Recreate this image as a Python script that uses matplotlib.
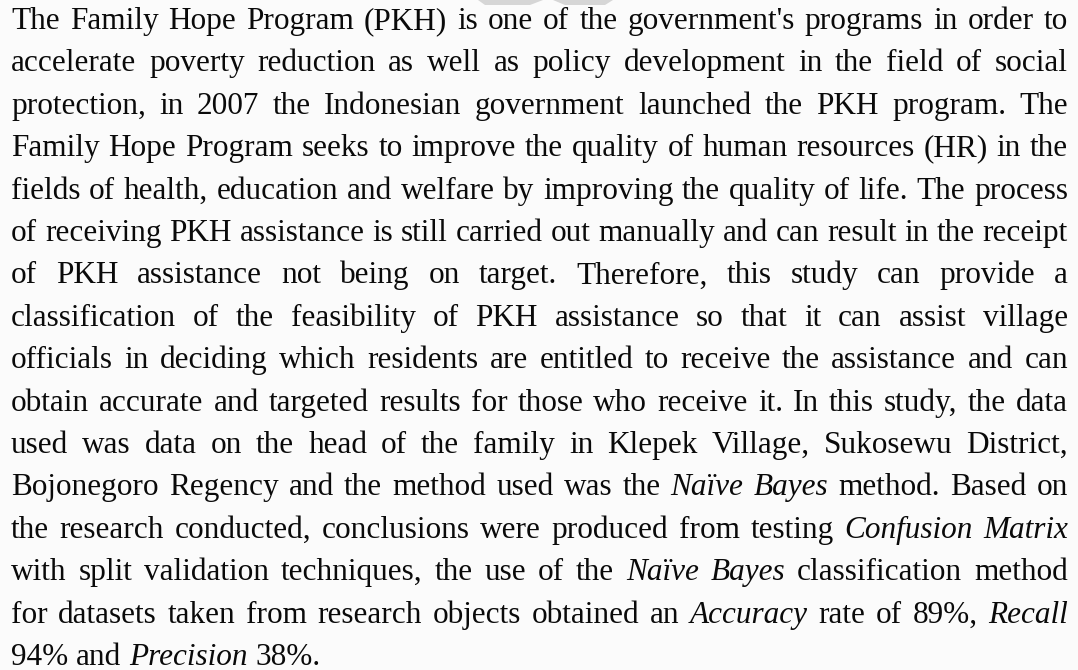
import matplotlib
matplotlib.use("Agg")
import matplotlib.pyplot as plt
from matplotlib.patches import Polygon

# Paragraph lines; words wrapped in *...* are italic
LINES = [
    "The Family Hope Program (PKH) is one of the government's programs in order to",
    "accelerate poverty reduction as well as policy development in the field of social",
    "protection, in 2007 the Indonesian government launched the PKH program. The",
    "Family Hope Program seeks to improve the quality of human resources (HR) in the",
    "fields of health, education and welfare by improving the quality of life. The process",
    "of receiving PKH assistance is still carried out manually and can result in the receipt",
    "of PKH assistance not being on target. Therefore, this study can provide a",
    "classification of the feasibility of PKH assistance so that it can assist village",
    "officials in deciding which residents are entitled to receive the assistance and can",
    "obtain accurate and targeted results for those who receive it. In this study, the data",
    "used was data on the head of the family in Klepek Village, Sukosewu District,",
    "Bojonegoro Regency and the method used was the *Naïve* *Bayes* method. Based on",
    "the research conducted, conclusions were produced from testing *Confusion* *Matrix*",
    "with split validation techniques, the use of the *Naïve* *Bayes* classification method",
    "for datasets taken from research objects obtained an *Accuracy* rate of 89%, *Recall*",
    "94% and *Precision* 38%.",
]


def parse(line):
    toks = []
    for w in line.split(" "):
        if w.startswith("*") and w.endswith("*") and len(w) > 2:
            toks.append((w[1:-1], True))
        else:
            toks.append((w, False))
    return toks


W, H = 1078, 670
fig = plt.figure(figsize=(W / 100, H / 100), dpi=100)
fig.patch.set_facecolor("#fbfbfb")
ax = fig.add_axes([0, 0, 1, 1])
ax.set_xlim(0, W)
ax.set_ylim(H, 0)
ax.axis("off")
ax.set_facecolor("#fbfbfb")

# faint watermark fragments at the top edge
ax.add_patch(Polygon([(478, 0), (543, 0), (530, 5), (485, 5)], closed=True,
                     facecolor="#d6d6d6", edgecolor="none"))
ax.add_patch(Polygon([(553, 0), (613, 0), (605, 5), (565, 5)], closed=True,
                     facecolor="#d6d6d6", edgecolor="none"))

renderer = fig.canvas.get_renderer()
FAMILY = "Liberation Serif"
COLOR = "#0a0a0a"
LEFT, RIGHT = 11, 1068
BASE0, STEP = 29, 42.4


def measure(s, italic, fs):
    t = ax.text(0, 0, s, fontsize=fs, family=FAMILY,
                style="italic" if italic else "normal")
    w = t.get_window_extent(renderer=renderer).width
    t.remove()
    return w

# fit the font so the tightest line fills the column with ordinary spaces
REF_FS = 20.0
ref_space = measure("a a", False, REF_FS) - 2 * measure("a", False, REF_FS)
natural = []
for line in LINES[:-1]:
    toks = parse(line)
    natural.append(sum(measure(w, it, REF_FS) for w, it in toks)
                   + ref_space * (len(toks) - 1))
FS = REF_FS * (RIGHT - LEFT) / max(natural)
space_w = ref_space * FS / REF_FS

for i, line in enumerate(LINES):
    toks = parse(line)
    widths = [measure(w, it, FS) for w, it in toks]
    y = BASE0 + STEP * i
    if i == len(LINES) - 1:
        gap = space_w
    else:
        gap = (RIGHT - LEFT - sum(widths)) / (len(toks) - 1)
    x = LEFT
    for (w, it), wd in zip(toks, widths):
        ax.text(x, y, w, fontsize=FS, family=FAMILY,
                style="italic" if it else "normal", color=COLOR,
                ha="left", va="baseline")
        x += wd + gap

fig.savefig("out.png", dpi=100, facecolor=fig.get_facecolor())
